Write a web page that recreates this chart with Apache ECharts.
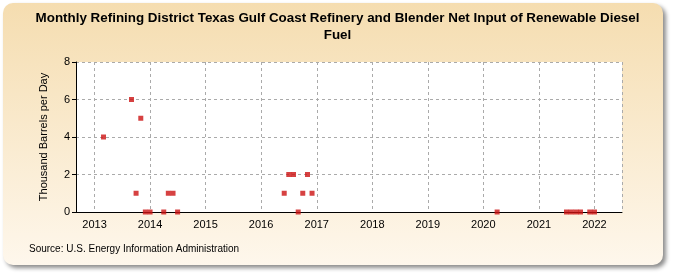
<!DOCTYPE html>
<html>
<head>
<meta charset="utf-8">
<script src="https://cdn.jsdelivr.net/npm/echarts@6/dist/echarts.min.js"></script>
<style>
  html, body { margin: 0; padding: 0; background: #ffffff; }
  #chart { width: 675px; height: 275px; }
</style>
</head>
<body>
<div id="chart"></div>
<script>
// monthly observations (YYYY-MM) and values, thousand barrels per day
var months = [
    '2013-03', '2013-09', '2013-10', '2013-11', '2013-12',
    '2014-01', '2014-04', '2014-05', '2014-06', '2014-07',
    '2016-06', '2016-07', '2016-08', '2016-09', '2016-10', '2016-11', '2016-12',
    '2020-04',
    '2021-07', '2021-08', '2021-09', '2021-10', '2021-12', '2022-01'
];
var values = [
    4, 6, 1, 5, 0,
    0, 0, 1, 1, 0,
    1, 2, 2, 0, 1, 2, 1,
    0,
    0, 0, 0, 0, 0, 0
];
var yTicks = [0, 2, 4, 6, 8];

var titleText = 'Monthly Refining District Texas Gulf Coast Refinery and Blender Net Input of Renewable Diesel\nFuel';
var sourceText = 'Source: U.S. Energy Information Administration';

var chart = echarts.init(document.getElementById('chart'));

var points = months.map(function(m, i){
    return [m + '-01', values[i]];
});

var option = {
    animation: false,
    graphic: [
        {
            type: 'rect',
            z: -10,
            shape: {x: 3, y: 3, width: 660, height: 262, r: 10},
            style: {
                fill: new echarts.graphic.LinearGradient(0, 0, 0, 1, [
                    {offset: 0, color: '#F5DDB0'},
                    {offset: 1, color: '#FEF7EC'}
                ]),
                shadowBlur: 4,
                shadowOffsetX: 3,
                shadowOffsetY: 3,
                shadowColor: 'rgba(0,0,0,0.45)'
            }
        },
        {
            type: 'text',
            left: 'center',
            top: 10,
            style: {
                text: titleText,
                font: 'bold 13.4px Arial',
                fill: '#000',
                textAlign: 'center',
                lineHeight: 17
            }
        },
        {
            type: 'text',
            left: 29,
            top: 244,
            style: {
                text: sourceText,
                font: '10px Arial',
                fill: '#000'
            }
        }
    ],
    grid: {
        left: 76,
        right: 53,
        top: 62,
        bottom: 63,
        show: true,
        backgroundColor: '#ffffff',
        borderWidth: 0
    },
    xAxis: {
        type: 'time',
        min: '2012-09-01',
        max: '2022-07-01',
        minInterval: 365 * 86400000,
        maxInterval: 366 * 86400000,
        axisLine: {show: true, lineStyle: {color: '#000', width: 1}},
        axisTick: {show: false},
        axisLabel: {
            formatter: '{yyyy}',
            color: '#000',
            fontSize: 11,
            fontFamily: 'Arial',
            margin: 7
        },
        splitLine: {show: true, lineStyle: {color: '#aaaaaa', type: [3, 3], width: 1}}
    },
    yAxis: {
        type: 'value',
        min: 0,
        max: 8,
        interval: 2,
        name: 'Thousand Barrels per Day',
        nameLocation: 'middle',
        nameGap: 27,
        nameTextStyle: {fontSize: 11, fontFamily: 'Arial', color: '#000'},
        axisLine: {show: true, lineStyle: {color: '#000', width: 1}},
        axisTick: {show: true, length: 4, lineStyle: {color: '#000'}},
        axisLabel: {
            color: '#000',
            fontSize: 11,
            fontFamily: 'Arial',
            margin: 6,
            customValues: yTicks
        },
        splitLine: {show: true, lineStyle: {color: '#aaaaaa', type: [3, 3], width: 1}}
    },
    series: [
        {
            type: 'scatter',
            symbol: 'rect',
            symbolSize: 5,
            itemStyle: {color: '#CC1111'},
            data: points
        }
    ]
};

chart.setOption(option);
</script>
</body>
</html>
